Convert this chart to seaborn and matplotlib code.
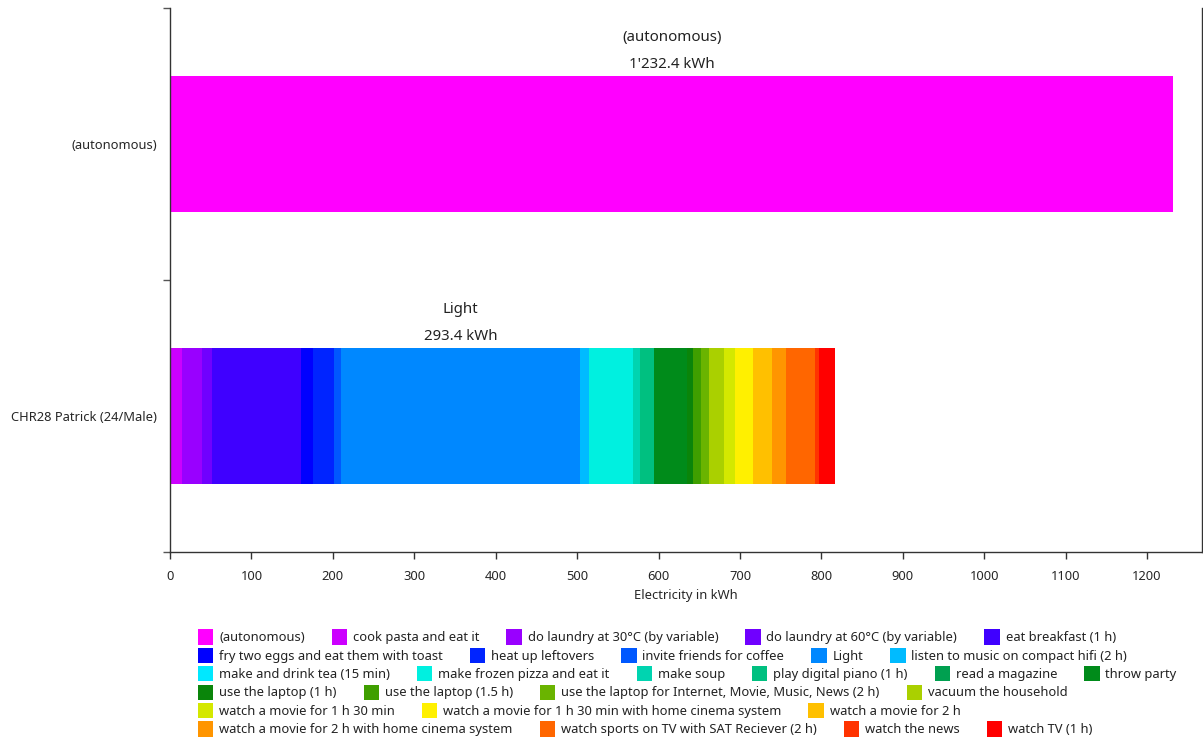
import numpy as np
import pandas as pd
import seaborn as sns
import matplotlib.pyplot as plt

# categories on the y axis
categories = ["(autonomous)", "CHR28 Patrick (24/Male)"]

# affordances, in legend order
activities = [
    "(autonomous)", "cook pasta and eat it", "do laundry at 30°C (by variable)",
    "do laundry at 60°C (by variable)", "eat breakfast (1 h)",
    "fry two eggs and eat them with toast", "heat up leftovers", "invite friends for coffee",
    "Light", "listen to music on compact hifi (2 h)",
    "make and drink tea (15 min)", "make frozen pizza and eat it", "make soup",
    "play digital piano (1 h)", "read a magazine", "throw party",
    "use the laptop (1 h)", "use the laptop (1.5 h)",
    "use the laptop for Internet, Movie, Music, News (2 h)", "vacuum the household",
    "watch a movie for 1 h 30 min", "watch a movie for 1 h 30 min with home cinema system",
    "watch a movie for 2 h",
    "watch a movie for 2 h with home cinema system", "watch sports on TV with SAT Reciever (2 h)",
    "watch the news", "watch TV (1 h)",
]

colors = [
    "#ff00ff", "#cc00ff", "#9900ff", "#7000ff", "#3f00ff",
    "#0000ff", "#0024ff", "#0058ff", "#0088ff", "#00bbff",
    "#00e8ff", "#00f0e0", "#00d4b0", "#00c080", "#00a050", "#008b1a",
    "#0a850a", "#3f9f00", "#6ab400", "#aad000",
    "#d4e800", "#fff000", "#ffc000",
    "#ff9500", "#ff6600", "#ff3300", "#ff0000",
]

# electricity in kWh per activity and category
autonomous_kwh = [1232.4] + [0.0] * 26
patrick_kwh = [
    0.0, 14.7, 24.6, 12.3, 109.3,
    15.1, 25.4, 8.6, 293.4, 11.1,
    0.5, 54.1, 8.6, 16.3, 0.5, 41.0,
    6.5, 9.8, 9.8, 18.4,
    13.9, 22.1, 23.0,
    17.2, 36.0, 4.5, 20.0,
]

legend_rows = [5, 5, 6, 4, 3, 4]

W, H = 1203, 740

sns.set_style("white")
plt.rcParams["font.family"] = ["Noto Sans", "DejaVu Sans"]
plt.rcParams["text.color"] = "#222222"

fig, ax = plt.subplots(figsize=(W / 100, H / 100), dpi=100)
fig.subplots_adjust(left=170 / W, right=1202 / W, top=1 - 8 / H, bottom=1 - 552 / H)

values = {categories[0]: autonomous_kwh, categories[1]: patrick_kwh}
handles = [None] * len(activities)

for cat, vals in values.items():
    left = 0.0
    biggest = int(np.argmax(vals))
    for i, v in enumerate(vals):
        if v <= 0:
            continue
        df = pd.DataFrame({"kwh": [v], "cat": [cat]})
        sns.barplot(data=df, x="kwh", y="cat", order=categories, orient="h",
                    color=colors[i], saturation=1, width=0.5, errorbar=None,
                    left=left, linewidth=0, ax=ax)
        handles[i] = ax.containers[-1].patches[0]
        if i == biggest:
            yc = categories.index(cat) - 0.25
            xc = left + v / 2
            txt = f"{v:,.1f}".replace(",", "'") + " kWh"
            ax.annotate(txt, (xc, yc), xytext=(0, 8.5), textcoords="offset points",
                        ha="center", va="center", fontsize=10.8, color="#222222")
            ax.annotate(activities[i], (xc, yc), xytext=(0, 27.5), textcoords="offset points",
                        ha="center", va="center", fontsize=10.8, color="#222222")
        left += v

ax.set_xlim(0, 1267.5)
ax.set_ylim(1.5, -0.5)
ax.set_xticks(np.arange(0, 1201, 100))
ax.set_xlabel("Electricity in kWh", fontsize=9.3, labelpad=4)
ax.set_ylabel("")

for s in ["left", "bottom", "right"]:
    ax.spines[s].set_color("#333333")
    ax.spines[s].set_linewidth(1)
ax.spines["top"].set_visible(False)

ax.tick_params(axis="x", direction="out", length=5, width=1, color="#333333",
               labelsize=9.3, pad=8, bottom=True)
ax.tick_params(axis="y", which="major", length=0, labelsize=9.3, pad=9.5, left=True)
ax.set_yticks([-0.5, 0.5, 1.5], minor=True)
ax.tick_params(axis="y", which="minor", direction="out", length=5, width=1,
               color="#555555", left=True)

# legend rows, flowing left to right
start = 0
for r, n in enumerate(legend_rows):
    idx = list(range(start, start + n))
    start += n
    y = 637 + 18.4 * r
    fig.legend([handles[i] for i in idx], [activities[i] for i in idx],
               loc="center left", bbox_to_anchor=(198 / W, 1 - y / H), ncol=n,
               frameon=False, borderpad=0, borderaxespad=0, fontsize=9.3,
               handlelength=1.18, handleheight=1.45, handletextpad=0.45,
               columnspacing=2.1)

fig.savefig("out.png", dpi=100)
